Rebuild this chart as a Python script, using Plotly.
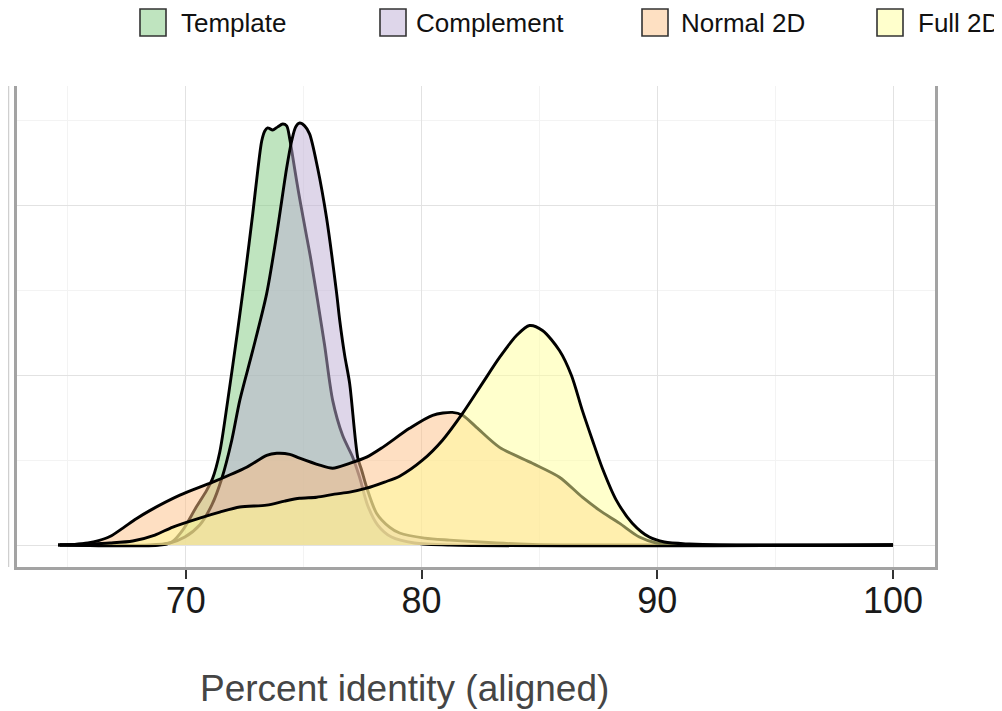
import plotly.graph_objects as go

# ---------------- data ----------------
categories = ["Template", "Complement", "Normal 2D", "Full 2D"]
fill_rgb = ["#7fc97f", "#beaed4", "#fdc086", "#ffff99"]

template_x = [64.66, 68.90, 69.41, 69.87, 70.42, 70.89, 71.14, 71.44, 71.78, 72.20, 72.54, 72.84,
              73.05, 73.22, 73.35, 73.47, 73.69, 73.90, 74.11, 74.28, 74.41, 74.53, 74.70, 74.87,
              75.08, 75.30, 75.59, 75.89, 76.23, 76.65, 77.08, 77.37, 77.71, 78.14, 78.73, 79.70,
              81.19, 100.0]
template_y = [0.0, 0.0, 0.0018, 0.0088, 0.0218, 0.0324, 0.0394, 0.0547, 0.0853, 0.1265, 0.1618, 0.1953,
              0.2206, 0.2382, 0.2441, 0.2459, 0.2447, 0.2465, 0.2482, 0.2471, 0.2394, 0.2294, 0.2147, 0.2012,
              0.1853, 0.1688, 0.1441, 0.1176, 0.0853, 0.0647, 0.0518, 0.0400, 0.0235, 0.0118, 0.0047, 0.0012,
              0.0, 0.0]

complement_x = [64.66, 68.47, 69.32, 69.96, 70.59, 71.10, 71.53, 71.95, 72.29, 72.84, 73.43, 73.86,
                74.28, 74.49, 74.66, 74.83, 75.04, 75.25, 75.59, 75.97, 76.40, 76.53, 76.74, 76.95,
                77.29, 77.46, 77.67, 78.09, 78.64, 79.07, 80.13, 81.19, 82.46, 84.15, 85.85, 100.0]
complement_y = [0.0, 0.0, 0.0012, 0.0047, 0.0118, 0.0235, 0.0394, 0.0618, 0.0853, 0.1147, 0.1482, 0.1835,
                0.2224, 0.2382, 0.2465, 0.2488, 0.2471, 0.2424, 0.2224, 0.1929, 0.1482, 0.1324, 0.1118, 0.0953,
                0.0518, 0.0441, 0.0341, 0.0188, 0.0106, 0.0071, 0.0041, 0.0029, 0.0018, 0.0006, 0.0, 0.0]

normal2d_x = [64.58, 65.30, 65.85, 66.30, 66.78, 67.33, 67.90, 68.47, 69.75, 71.14, 72.58, 73.43, 73.86,
              74.41, 74.83, 75.68, 76.23, 76.95, 77.67, 78.35, 79.49, 80.47, 81.31, 81.74, 82.33,
              83.31, 84.70, 85.85, 86.82, 87.54, 88.39, 89.24, 89.96, 90.93, 100.0]
normal2d_y = [0.0, 0.0004, 0.0012, 0.0026, 0.0050, 0.0100, 0.0155, 0.0203, 0.0294, 0.0371, 0.0459, 0.0529,
              0.0541, 0.0535, 0.0512, 0.0471, 0.0453, 0.0482, 0.0518, 0.0576, 0.0688, 0.0765, 0.0782,
              0.0765, 0.0694, 0.0576, 0.0482, 0.0400, 0.0282, 0.0206, 0.0129, 0.0047, 0.0012, 0.0, 0.0]

full2d_x = [64.58, 65.93, 66.78, 67.75, 68.69, 69.45, 70.59, 71.44, 72.29, 73.43, 74.19, 74.83,
            75.55, 76.31, 76.95, 77.67, 78.43, 79.07, 80.04, 80.89, 81.74, 82.58, 83.31, 84.03,
            84.58, 85.13, 85.85, 86.36, 86.82, 87.25, 87.67, 88.26, 88.94, 89.66, 90.30, 91.36,
            92.63, 100.0]
full2d_y = [0.0, 0.0006, 0.0012, 0.0024, 0.0059, 0.0106, 0.0159, 0.0194, 0.0224, 0.0235, 0.0259, 0.0276,
            0.0282, 0.0300, 0.0312, 0.0335, 0.0371, 0.0406, 0.0500, 0.0618, 0.0776, 0.0953, 0.1106, 0.1235,
            0.1294, 0.1265, 0.1147, 0.1000, 0.0794, 0.0618, 0.0453, 0.0265, 0.0129, 0.0047, 0.0018, 0.0006,
            0.0, 0.0]

x_ticks = [70, 80, 90, 100]
x_minor = [65, 75, 85, 95]
y_major = [0.0, 0.1, 0.2]
y_minor = [0.05, 0.15, 0.25]
x_title = "Percent identity (aligned)"

series_x = [template_x, complement_x, normal2d_x, full2d_x]
series_y = [template_y, complement_y, normal2d_y, full2d_y]


def hex_rgb(h):
    h = h.lstrip("#")
    return tuple(int(h[i:i + 2], 16) for i in (0, 2, 4))


ALPHA = 0.5

fig = go.Figure()
for name, col, xs, ys in zip(categories, fill_rgb, series_x, series_y):
    r, g, b = hex_rgb(col)
    fig.add_trace(go.Scatter(
        x=xs, y=ys, name=name, mode="lines",
        line=dict(color="black", width=2.9, shape="spline", smoothing=0.8),
        fill="tozeroy", fillcolor=f"rgba({r},{g},{b},{ALPHA})",
        showlegend=False, hoverinfo="x+y+name",
    ))

# ---------------- layout ----------------
# target pixel positions are measured on the page; the page body adds an 8 px offset
OFF = 8
W, H = 1002, 711
PLOT_L, PLOT_R, PLOT_T, PLOT_B = 17, 935, 86, 567
ML = PLOT_L - OFF
MT = PLOT_T - OFF
MR = W - (PLOT_R - OFF)
MB = H - (PLOT_B - OFF)
PW = PLOT_R - PLOT_L
PH = PLOT_B - PLOT_T


def px_x(p):
    return (p - PLOT_L) / PW


def px_y(p):
    return (PLOT_B - p) / PH


fig.update_layout(
    width=W, height=H,
    margin=dict(l=ML, r=MR, t=MT, b=MB, pad=0),
    paper_bgcolor="white", plot_bgcolor="white",
    showlegend=False,
    font=dict(family="Liberation Sans, Arial, sans-serif", color="#1a1a1a"),
)

fig.update_xaxes(
    range=[62.84, 101.78],
    tickvals=x_ticks, ticktext=[str(t) for t in x_ticks],
    tickfont=dict(size=36, color="#1a1a1a"),
    ticks="outside", ticklen=9, tickwidth=2, tickcolor="#333333",
    ticklabelstandoff=-9,
    showgrid=True, gridcolor="#e2e2e2", gridwidth=1.3,
    minor=dict(tickvals=x_minor, showgrid=True, gridcolor="#f3f3f3", gridwidth=1, ticks=""),
    showline=True, linecolor="#a3a3a3", linewidth=2.5, mirror=False,
    zeroline=False,
)
fig.update_yaxes(
    range=[-0.01294, 0.2706],
    tickvals=y_major, showticklabels=False, ticks="",
    showgrid=True, gridcolor="#e2e2e2", gridwidth=1.3,
    minor=dict(tickvals=y_minor, showgrid=True, gridcolor="#f3f3f3", gridwidth=1, ticks=""),
    showline=True, linecolor="#a3a3a3", linewidth=2.5, mirror=True,
    zeroline=False,
)

# extra thin line left of the panel
fig.add_shape(type="line", xref="paper", yref="paper",
              x0=px_x(8.5), x1=px_x(8.5), y0=0, y1=1,
              line=dict(color="#cfcfcf", width=1.5))

# axis title
fig.add_annotation(text=x_title, xref="paper", yref="paper",
                   x=px_x(404), y=px_y(688), xanchor="center", yanchor="middle",
                   showarrow=False, font=dict(size=37, color="#454545"))

# manual legend (square keys like ggplot)
box_left = [140, 380, 642, 877]
text_left = [180, 415, 680, 917]
for name, col, bl, tl in zip(categories, fill_rgb, box_left, text_left):
    r, g, b = hex_rgb(col)
    br = round(r * ALPHA + 255 * (1 - ALPHA))
    bg = round(g * ALPHA + 255 * (1 - ALPHA))
    bb = round(b * ALPHA + 255 * (1 - ALPHA))
    fig.add_shape(type="rect", xref="paper", yref="paper",
                  x0=px_x(bl), x1=px_x(bl + 26), y0=px_y(36), y1=px_y(9),
                  fillcolor=f"rgb({br},{bg},{bb})",
                  line=dict(color="#333333", width=1.6))
    fig.add_annotation(text=name, xref="paper", yref="paper",
                       x=px_x(tl), y=px_y(23), xanchor="left", yanchor="middle",
                       borderpad=0,
                       showarrow=False, font=dict(size=26, color="#111111"))

fig.write_html("out.html")
